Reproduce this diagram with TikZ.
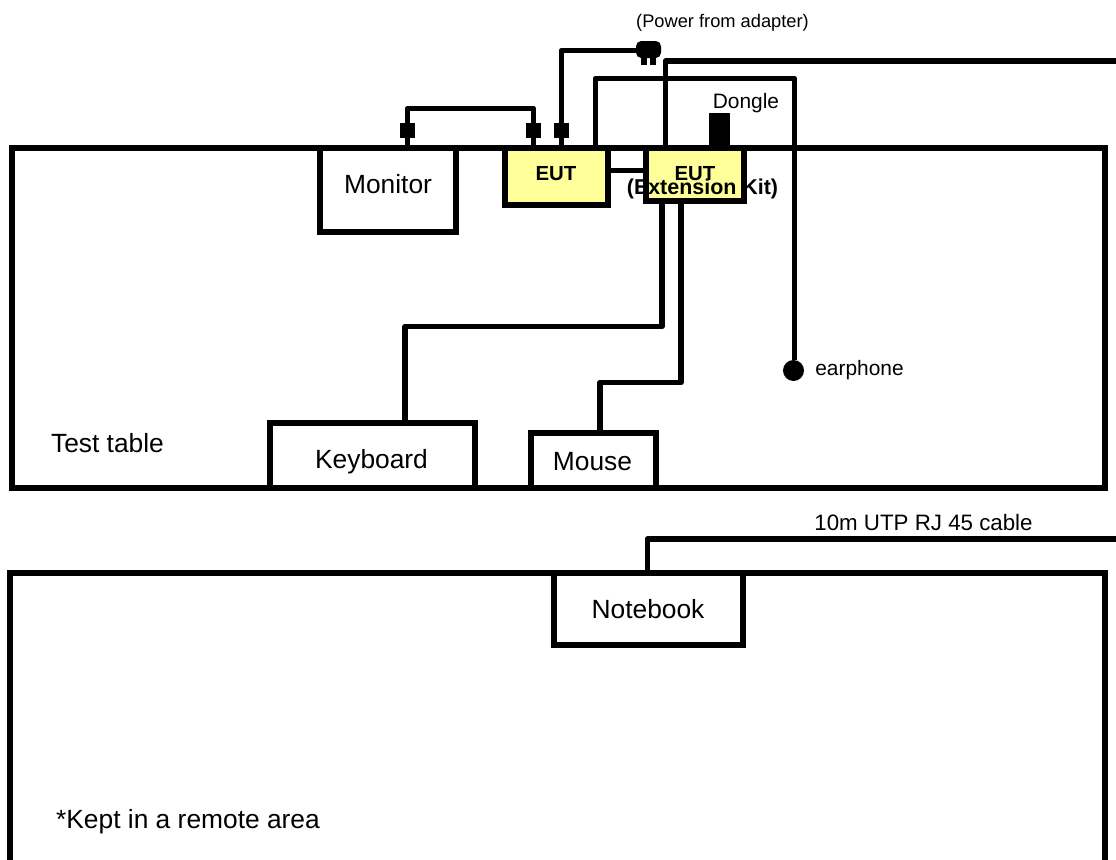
\documentclass[tikz,border=0pt]{standalone}
\usepackage{fontspec}
\setmainfont{Liberation Sans}
\usetikzlibrary{positioning}
\definecolor{eutfill}{HTML}{FFFF99}
\tikzset{
  table/.style={draw=black, line width=0.12cm, fill=white, inner sep=0pt, outer sep=0pt},
  blk/.style={table},
  eut/.style={blk, fill=eutfill},
  cable/.style={draw=black, line width=0.11cm, line join=round},
  plug/.style={fill=black, inner sep=0pt, outer sep=0pt},
  lbl/.style={font=\fontsize{15}{17}\selectfont, text=black, anchor=base, inner sep=0pt},
  tag/.style={font=\fontsize{11.9}{14}\selectfont, text=black, anchor=base, inner sep=0pt},
  eutlbl/.style={font=\fontsize{11.6}{14}\selectfont\bfseries, text=black, anchor=base, inner sep=0pt},
}
\begin{document}
\begin{tikzpicture}[x=0.02cm, y=-0.02cm]
\useasboundingbox (0,0) rectangle (1116,859);
% tables
\node[table, minimum width=21.86cm, minimum height=6.81cm] (table1) at (558.5,317.75) {};
\node[table, minimum width=21.9cm, minimum height=6.6cm] (table2) at (557.5,737.5) {};

% boxes on the test table
\node[blk, minimum width=2.72cm, minimum height=1.69cm] (monitor) at (388,189.75) {};
\node[eut, minimum width=2.06cm, minimum height=1.15cm] (euta) at (556.5,176.25) {};
\node[eut, minimum width=1.97cm, minimum height=1.07cm] (eutb) at (695.25,174.25) {};
\node[blk, minimum width=4.1cm, minimum height=1.3cm] (keyboard) at (372.5,455.5) {};
\node[blk, minimum width=2.5cm, minimum height=1.1cm] (mouse) at (593.5,460.5) {};
\node[blk, minimum width=3.78cm, minimum height=1.44cm] (notebook) at (648.5,608.5) {};

% bends of the cables
\coordinate (mon1) at (407.5,108.5);
\coordinate (mon2) at (533.5,108.5);
\coordinate (pow1) at (561.5,50.5);
\coordinate (ear1) at (595.5,78.5);
\coordinate (ear2) at (794.5,78.5);
\coordinate (lan1) at (665.5,61);
\coordinate (lan2) at (1116,61);
\coordinate (kbd1) at (662,326.5);
\coordinate (kbd2) at (405,326.5);
\coordinate (mse1) at (681,382.5);
\coordinate (mse2) at (600,382.5);
\coordinate (nbk1) at (647.5,539);
\coordinate (nbk2) at (1116,539);

% plugs and dongle
\node[plug, minimum width=0.3cm, minimum height=0.3cm] (jack1) at (407.5,130.5) {};
\node[plug, minimum width=0.3cm, minimum height=0.3cm] (jack2) at (533.5,130.5) {};
\node[plug, minimum width=0.3cm, minimum height=0.3cm] (jack3) at (561,130.5) {};
\node[plug, rounded corners=3pt, minimum width=0.5cm, minimum height=0.34cm] (adapter) at (648.5,49.5) {};
\node[plug, minimum width=0.12cm, minimum height=0.2cm] (pin1) at (644,60) {};
\node[plug, minimum width=0.12cm, minimum height=0.2cm] (pin2) at (653,60) {};
\node[plug, minimum width=0.42cm, minimum height=0.68cm] (dongle) at (719.5,130) {};
\node[plug, circle, minimum size=0.42cm] (earphone) at (793.5,370.5) {};

% cables
\draw[cable] (mon1 |- monitor.north) -- (mon1) -- (mon2) -- (mon2 |- euta.north);
\draw[cable] (pow1 |- euta.north) -- (pow1) -- (adapter.west |- pow1);
\draw[cable] (ear1 |- euta.north) -- (ear1) -- (ear2) -- (ear2 |- earphone.north);
\draw[cable] (lan1 |- eutb.north) -- (lan1) -- (lan2);
\draw[cable] (euta.east |- 0,170.5) -- (eutb.west |- 0,170.5);
\draw[cable] (kbd1 |- eutb.south) -- (kbd1) -- (kbd2) -- (kbd2 |- keyboard.north);
\draw[cable] (mse1 |- eutb.south) -- (mse1) -- (mse2) -- (mse2 |- mouse.north);
\draw[cable] (nbk1 |- notebook.north) -- (nbk1) -- (nbk2);

% labels
\node[lbl] (montxt) at (388,193) {Monitor};
\node[lbl] (kbdtxt) at (371.5,468) {Keyboard};
\node[lbl] (msetxt) at (592.5,470) {Mouse};
\node[lbl] (tabtxt) at (107.5,452) {Test table};
\node[lbl] (nbktxt) at (648,618) {Notebook};
\node[lbl] (remtxt) at (188,828) {*Kept in a remote area};
\node[eutlbl] (eutatxt) at (556,180.5) {EUT};
\node[eutlbl] (eutbtxt) at (695,180) {EUT};
\node[eutlbl, font=\fontsize{12.2}{14}\selectfont\bfseries] (exttxt) at (702.5,194) {(Extension Kit)};
\node[tag, font=\fontsize{10.4}{12}\selectfont] (powtxt) at (722.5,27) {(Power from adapter)};
\node[tag] (dngtxt) at (746,108) {Dongle};
\node[tag] (eartxt) at (859.5,375) {earphone};
\node[tag, font=\fontsize{12.7}{14}\selectfont] (utptxt) at (923.5,530) {10m UTP RJ 45 cable};
\end{tikzpicture}
\end{document}
